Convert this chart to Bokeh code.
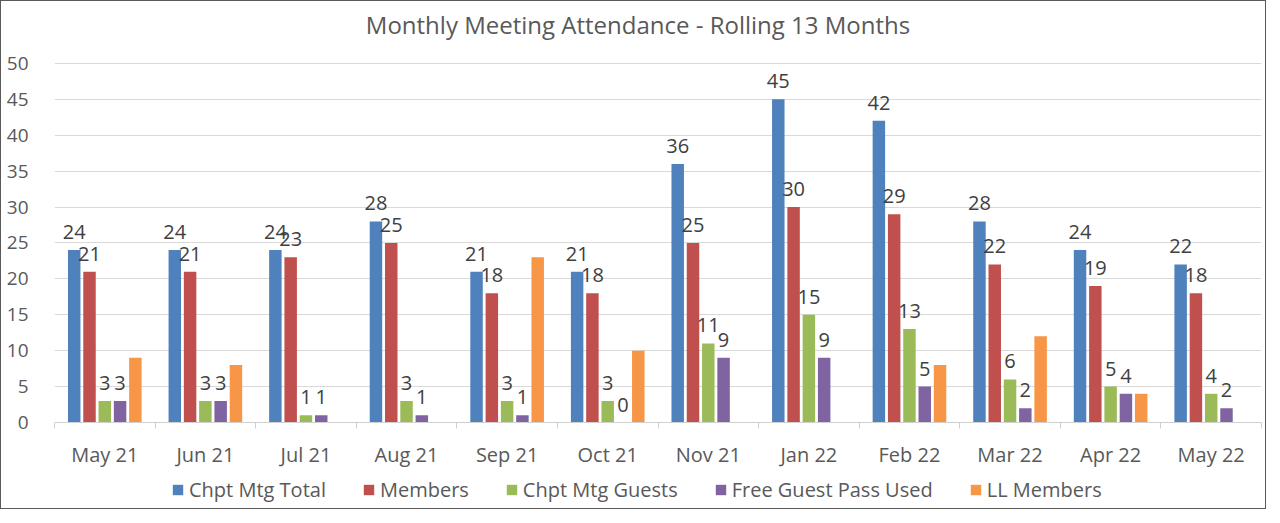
from bokeh.plotting import figure
from bokeh.models import (Range1d, FixedTicker, Legend, LegendItem, ColumnDataSource, Label)
from bokeh.layouts import column
from bokeh.core.properties import value
from bokeh.embed import file_html
from bokeh.resources import INLINE

categories = ["May 21", "Jun 21", "Jul 21", "Aug 21", "Sep 21", "Oct 21",
              "Nov 21", "Jan 22", "Feb 22", "Mar 22", "Apr 22", "May 22"]
series_names = ["Chpt Mtg Total", "Members", "Chpt Mtg Guests", "Free Guest Pass Used", "LL Members"]
chpt_total = [24, 24, 24, 28, 21, 21, 36, 45, 42, 28, 24, 22]
members = [21, 21, 23, 25, 18, 18, 25, 30, 29, 22, 19, 18]
guests = [3, 3, 1, 3, 3, 3, 11, 15, 13, 6, 5, 4]
free_pass = [3, 3, 1, 1, 1, 0, 9, 9, 5, 2, 4, 2]
ll_members = [9, 8, 0, 0, 23, 10, 0, 0, 8, 12, 4, 0]
y_ticks = [0, 5, 10, 15, 20, 25, 30, 35, 40, 45, 50]
title_text = "Monthly Meeting Attendance - Rolling 13 Months"

series = [chpt_total, members, guests, free_pass, ll_members]
colors = ["#4f81bd", "#c0504d", "#9bbb59", "#8064a2", "#f79646"]
show_labels = [True, True, True, True, False]

FONT = "Open Sans"
TXT = "#595959"

W = 1264
H_MAIN = 469
H_LEG = 38
BOTTOM = 47
FRAME_H = H_MAIN - BOTTOM          # frame spans from figure top to the x axis
Y_END = 50 * FRAME_H / 360.0       # 50 units occupy 360 px, rest is room for the title

p = figure(width=W, height=H_MAIN, output_backend="svg", toolbar_location=None,
           x_range=Range1d(0, 12), y_range=Range1d(0, Y_END),
           min_border_left=53, min_border_right=4, min_border_top=0, min_border_bottom=BOTTOM)
p.outline_line_color = None
p.background_fill_color = "white"
p.border_fill_color = "white"

# axes
p.yaxis.ticker = FixedTicker(ticks=y_ticks)
p.yaxis.axis_line_color = None
p.yaxis.major_tick_line_color = None
p.yaxis.minor_tick_line_color = None
p.yaxis.major_label_text_font = FONT
p.yaxis.major_label_text_font_size = "19px"
p.yaxis.major_label_text_color = TXT
p.yaxis.major_label_standoff = 20

centers = [i + 0.5 for i in range(len(categories))]
p.xaxis.ticker = FixedTicker(ticks=centers, minor_ticks=list(range(len(categories) + 1)))
p.xaxis.major_label_overrides = {c: lab for c, lab in zip(centers, categories)}
p.xaxis.axis_line_color = "#d0d0d0"
p.xaxis.major_tick_line_color = None
p.xaxis.minor_tick_line_color = "#d0d0d0"
p.xaxis.minor_tick_in = 0
p.xaxis.minor_tick_out = 6
p.xaxis.major_label_text_font = FONT
p.xaxis.major_label_text_font_size = "20px"
p.xaxis.major_label_text_color = TXT
p.xaxis.major_label_standoff = 12

p.xgrid.grid_line_color = None
p.ygrid.ticker = FixedTicker(ticks=y_ticks)
p.ygrid.grid_line_color = "#d9d9d9"
p.ygrid.grid_line_width = 1

step = 0.152
bar_w = 0.124
for k, (vals, col, lab) in enumerate(zip(series, colors, show_labels)):
    off = (k - 2) * step
    xs = [i + 0.5 + off for i in range(len(categories))]
    src = ColumnDataSource(dict(x=xs, top=vals, txt=[str(v) for v in vals]))
    p.vbar(x="x", top="top", bottom=0, width=bar_w, source=src,
           fill_color=col, line_color=None)
    if lab:
        p.text(x="x", y="top", text="txt", source=src, text_align="center",
               text_baseline="alphabetic", y_offset=-18, text_font=value(FONT),
               text_font_size="20px", text_color="#404040")

title = Label(x=6 - 20 / 100.6, y=50 + 39 / 7.2, text=title_text,
              text_align="center", text_baseline="middle", text_font=FONT,
              text_font_size="24px", text_color=TXT)
p.add_layout(title)

# legend strip below the chart
lg = figure(width=W, height=H_LEG, output_backend="svg", toolbar_location=None,
            x_axis_type=None, y_axis_type=None,
            x_range=Range1d(0, 1), y_range=Range1d(0, 1),
            min_border_left=0, min_border_right=0, min_border_top=0, min_border_bottom=0)
lg.grid.visible = False
lg.outline_line_color = None
lg.background_fill_color = "white"
lg.border_fill_color = "white"
items = []
for name, vals, col in zip(series_names, series, colors):
    r = lg.vbar(x=list(range(len(vals))), top=vals, width=0.1, fill_color=col,
                line_color=None, visible=False)
    items.append(LegendItem(label=name, renderers=[r]))
legend = Legend(items=items, orientation="horizontal", location=(117, 5),
                padding=0, margin=0, spacing=36, label_standoff=5,
                glyph_width=13, glyph_height=13, label_height=20,
                border_line_color=None, background_fill_alpha=0,
                inactive_fill_alpha=0,
                label_text_font=FONT, label_text_font_size="20px", label_text_color=TXT)
lg.add_layout(legend, "center")

layout = column(p, lg, spacing=0)
layout.styles = {"border": "1px solid #595959"}

open("out.html", "w").write(file_html(layout, INLINE))
